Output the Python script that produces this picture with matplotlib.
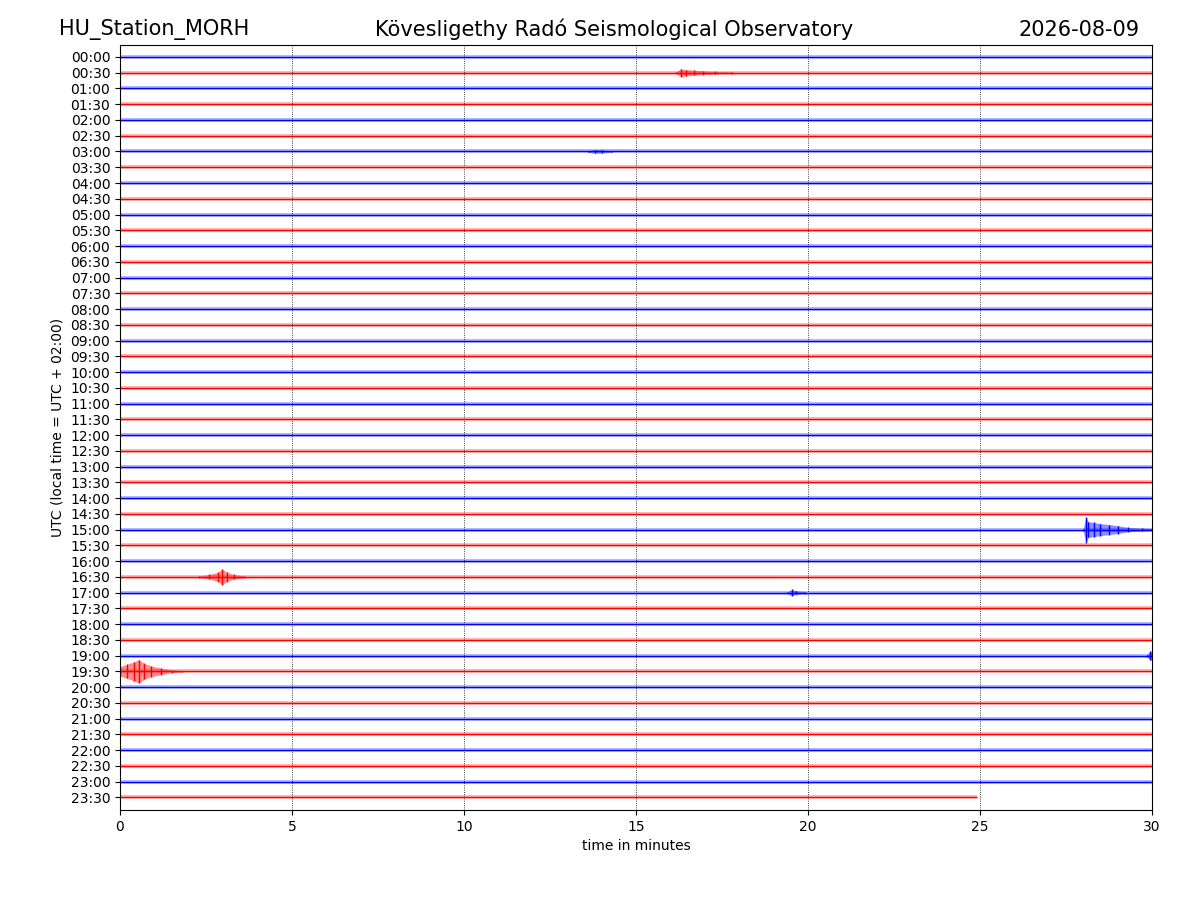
import numpy as np
import matplotlib
matplotlib.use('Agg')
import matplotlib.pyplot as plt

# ==========================================
# DATA
# ==========================================
station = 'HU_Station_MORH'
observatory = 'Kövesligethy Radó Seismological Observatory'
day = '2026-08-09'

row_labels = ['%02d:%02d' % (h, m) for h in range(24) for m in (0, 30)]
row_colors = ['blue', 'red'] * 24
# length of each trace in minutes (last one stops early)
row_lengths = [30.0] * 47 + [24.9]

# events: row index -> (minutes, envelope half-amplitude in row units)
events = {
    1: ([16.15, 16.3, 16.45, 16.7, 16.95, 17.3, 17.8],
        [0.04, 0.25, 0.2, 0.16, 0.12, 0.08, 0.05]),
    6: ([13.6, 13.8, 14.0, 14.3],
        [0.05, 0.12, 0.1, 0.05]),
    30: ([28.0, 28.08, 28.15, 28.3, 28.5, 28.75, 29.0, 29.3, 29.7, 30.0],
         [0.06, 0.82, 0.5, 0.45, 0.38, 0.32, 0.25, 0.14, 0.09, 0.07]),
    33: ([2.3, 2.6, 2.85, 2.97, 3.1, 3.3, 3.6],
         [0.05, 0.15, 0.3, 0.5, 0.3, 0.15, 0.06]),
    34: ([19.4, 19.53, 19.65, 19.9],
         [0.05, 0.2, 0.12, 0.06]),
    38: ([29.85, 29.95, 30.0],
         [0.06, 0.3, 0.25]),
    39: ([0.0, 0.2, 0.4, 0.55, 0.7, 0.9, 1.2, 1.5, 1.8],
         [0.3, 0.45, 0.6, 0.75, 0.5, 0.35, 0.2, 0.08, 0.05]),
}

# ==========================================
# PLOT
# ==========================================
fig = plt.figure(figsize=(12, 9), dpi=100)
ax = fig.add_axes([0.1, 0.1, 0.86, 0.85])

for i, lab in enumerate(row_labels):
    c = row_colors[i]
    x_end = row_lengths[i]
    # noise band: soft wide line + darker core
    ax.plot([0, x_end], [i, i], color=c, lw=2.6, alpha=0.35, solid_capstyle='butt')
    ax.plot([0, x_end], [i, i], color=c, lw=0.9, solid_capstyle='butt')
    if i in events:
        t, a = events[i]
        t = np.array(t)
        a = np.array(a)
        ax.fill_between(t, i - a, i + a, color=c, alpha=0.45, lw=0)
        ax.vlines(t, i - a, i + a, color=c, lw=1.0)

for g in [5, 10, 15, 20, 25]:
    ax.axvline(g, color='black', ls=':', lw=0.6, zorder=0)

ax.set_xlim(0, 30)
ax.set_ylim(47.8, -0.76)
ax.set_yticks(range(len(row_labels)))
ax.set_yticklabels(row_labels)
ax.set_xticks([0, 5, 10, 15, 20, 25, 30])
ax.set_xlabel('time in minutes')
ax.set_ylabel('UTC (local time = UTC + 02:00)')

fig.text(0.049, 0.967, station, fontsize=15, ha='left', va='center')
fig.text(0.512, 0.967, observatory, fontsize=15, ha='center', va='center')
fig.text(0.95, 0.967, day, fontsize=15, ha='right', va='center')

plt.savefig('out.png', dpi=100)
plt.close()
